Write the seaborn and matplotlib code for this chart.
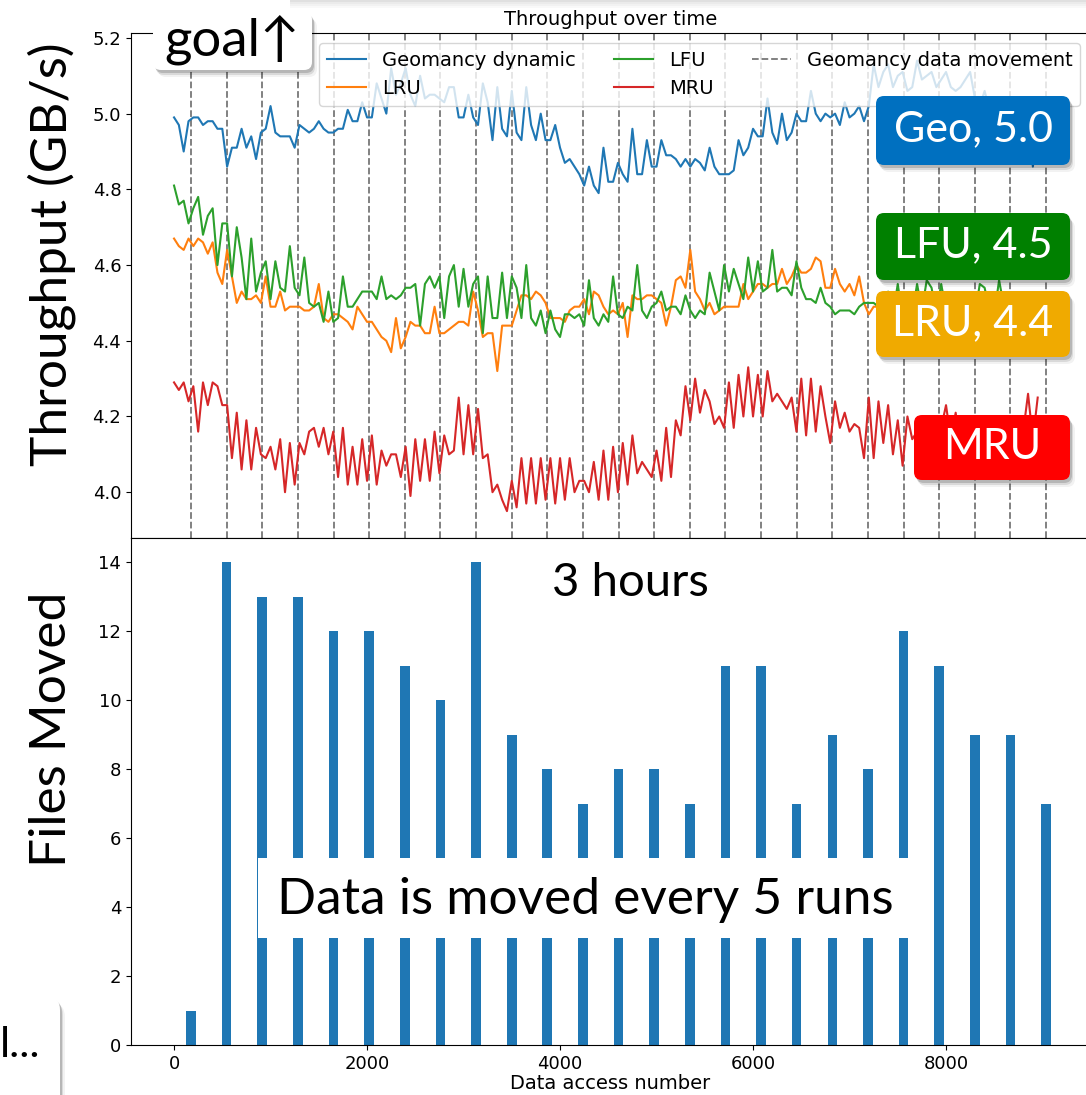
import numpy as np
import pandas as pd
import matplotlib
matplotlib.use("Agg")
import matplotlib.pyplot as plt
from matplotlib.patches import FancyBboxPatch, Rectangle
import seaborn as sns

# ---------------- data ----------------
geo = [
    4.99, 4.97, 4.90, 4.98, 4.99, 4.99, 4.97, 4.98, 4.98, 4.96,
    4.96, 4.86, 4.91, 4.91, 4.96, 4.91, 4.94, 4.88, 4.95, 4.96,
    5.02, 4.95, 4.94, 4.94, 4.94, 4.91, 4.97, 4.96, 4.95, 4.96,
    4.98, 4.96, 4.95, 4.95, 4.96, 4.96, 5.01, 4.98, 4.98, 5.03,
    4.99, 4.99, 5.08, 5.04, 5.00, 5.12, 5.05, 5.08, 5.12, 5.05,
    5.02, 5.10, 5.04, 5.05, 5.05, 5.04, 5.03, 5.07, 5.07, 4.99,
    4.99, 5.05, 4.99, 4.97, 5.08, 5.03, 4.93, 5.07, 4.96, 4.94,
    5.06, 4.95, 4.93, 5.07, 4.97, 4.93, 5.00, 4.93, 4.93, 4.97,
    4.91, 4.87, 4.88, 4.86, 4.84, 4.81, 4.86, 4.81, 4.79, 4.91,
    4.82, 4.82, 4.87, 4.84, 4.82, 4.96, 4.84, 4.84, 4.93, 4.86,
    4.86, 4.93, 4.89, 4.89, 4.88, 4.86, 4.88, 4.86, 4.88, 4.87,
    4.85, 4.91, 4.86, 4.84, 4.84, 4.84, 4.85, 4.93, 4.89, 4.91,
    4.96, 4.94, 4.94, 5.04, 4.95, 4.92, 5.00, 4.93, 4.95, 5.00,
    4.98, 4.98, 5.06, 5.00, 4.98, 5.00, 4.99, 5.00, 4.97, 5.03,
    4.99, 5.00, 5.02, 4.98, 5.02, 5.13, 5.07, 5.11, 5.13, 5.07,
    5.10, 5.11, 5.06, 5.07, 5.14, 5.09, 5.10, 5.11, 5.07, 5.09,
    5.11, 5.07, 5.06, 5.07, 5.09, 5.11, 5.04, 5.02, 5.06, 5.01,
    5.04, 4.99, 5.03, 5.00, 5.02, 4.98, 5.01, 4.99, 4.86, 4.97,
]
lru = [
    4.67, 4.65, 4.64, 4.67, 4.65, 4.67, 4.66, 4.63, 4.66, 4.58,
    4.55, 4.64, 4.57, 4.50, 4.53, 4.51, 4.51, 4.52, 4.50, 4.57,
    4.49, 4.49, 4.53, 4.48, 4.49, 4.49, 4.49, 4.48, 4.48, 4.49,
    4.55, 4.46, 4.45, 4.47, 4.47, 4.46, 4.45, 4.43, 4.49, 4.47,
    4.45, 4.45, 4.43, 4.41, 4.40, 4.37, 4.46, 4.38, 4.41, 4.45,
    4.44, 4.44, 4.42, 4.42, 4.49, 4.42, 4.42, 4.43, 4.44, 4.45,
    4.45, 4.44, 4.53, 4.48, 4.41, 4.42, 4.42, 4.32, 4.44, 4.44,
    4.44, 4.48, 4.52, 4.52, 4.51, 4.53, 4.52, 4.50, 4.46, 4.46,
    4.46, 4.45, 4.48, 4.49, 4.49, 4.51, 4.47, 4.53, 4.52, 4.49,
    4.47, 4.48, 4.47, 4.50, 4.41, 4.52, 4.51, 4.51, 4.52, 4.52,
    4.51, 4.50, 4.44, 4.49, 4.56, 4.57, 4.54, 4.64, 4.53, 4.51,
    4.48, 4.50, 4.47, 4.48, 4.49, 4.49, 4.49, 4.49, 4.55, 4.51,
    4.53, 4.55, 4.55, 4.54, 4.55, 4.55, 4.59, 4.55, 4.57, 4.60,
    4.58, 4.58, 4.59, 4.62, 4.61, 4.54, 4.54, 4.59, 4.55, 4.53,
    4.55, 4.52, 4.57, 4.50, 4.47, 4.49, 4.49, 4.52, 4.48, 4.50,
    4.47, 4.50, 4.49, 4.46, 4.50, 4.48, 4.49, 4.51, 4.48, 4.49,
    4.49, 4.50, 4.47, 4.49, 4.50, 4.48, 4.49, 4.49, 4.47, 4.50,
    4.49, 4.48, 4.49, 4.51, 4.49, 4.48, 4.50, 4.49, 4.49, 4.49,
]
lfu = [
    4.81, 4.76, 4.77, 4.71, 4.75, 4.78, 4.68, 4.73, 4.75, 4.60,
    4.71, 4.71, 4.57, 4.70, 4.62, 4.51, 4.67, 4.53, 4.58, 4.61,
    4.51, 4.61, 4.54, 4.53, 4.65, 4.54, 4.52, 4.62, 4.50, 4.49,
    4.50, 4.45, 4.53, 4.45, 4.46, 4.57, 4.49, 4.49, 4.51, 4.53,
    4.53, 4.53, 4.51, 4.57, 4.51, 4.52, 4.51, 4.52, 4.54, 4.54,
    4.55, 4.44, 4.55, 4.57, 4.54, 4.57, 4.46, 4.57, 4.60, 4.49,
    4.59, 4.49, 4.55, 4.57, 4.42, 4.57, 4.46, 4.46, 4.58, 4.46,
    4.57, 4.54, 4.46, 4.60, 4.46, 4.44, 4.48, 4.42, 4.48, 4.43,
    4.41, 4.47, 4.47, 4.46, 4.47, 4.44, 4.56, 4.46, 4.44, 4.47,
    4.45, 4.57, 4.47, 4.46, 4.49, 4.48, 4.60, 4.48, 4.46, 4.49,
    4.50, 4.53, 4.48, 4.49, 4.49, 4.47, 4.52, 4.48, 4.46, 4.48,
    4.47, 4.58, 4.53, 4.48, 4.60, 4.53, 4.59, 4.55, 4.51, 4.62,
    4.53, 4.61, 4.53, 4.54, 4.64, 4.53, 4.54, 4.54, 4.52, 4.61,
    4.54, 4.51, 4.51, 4.50, 4.54, 4.50, 4.49, 4.47, 4.48, 4.48,
    4.48, 4.47, 4.49, 4.50, 4.50, 4.50, 4.49, 4.48, 4.53, 4.47,
    4.55, 4.46, 4.50, 4.47, 4.55, 4.48, 4.56, 4.54, 4.47, 4.55,
    4.48, 4.49, 4.46, 4.50, 4.48, 4.49, 4.47, 4.55, 4.54, 4.48,
    4.47, 4.56, 4.49, 4.48, 4.50, 4.49, 4.47, 4.49, 4.48, 4.50,
]
mru = [
    4.29, 4.27, 4.29, 4.24, 4.28, 4.16, 4.29, 4.23, 4.29, 4.28,
    4.23, 4.23, 4.09, 4.21, 4.06, 4.19, 4.06, 4.17, 4.10, 4.09,
    4.12, 4.06, 4.14, 4.00, 4.13, 4.02, 4.13, 4.10, 4.16, 4.17,
    4.12, 4.17, 4.10, 4.16, 4.04, 4.17, 4.02, 4.12, 4.02, 4.14,
    4.03, 4.15, 4.02, 4.11, 4.07, 4.10, 4.10, 4.04, 4.12, 3.99,
    4.14, 4.03, 4.14, 4.03, 4.16, 4.05, 4.15, 4.10, 4.11, 4.25,
    4.10, 4.23, 4.10, 4.22, 4.09, 4.10, 4.00, 4.02, 3.98, 3.95,
    4.03, 3.96, 4.09, 3.97, 4.09, 3.97, 4.09, 3.98, 4.09, 3.97,
    4.09, 3.98, 4.09, 4.00, 4.03, 4.03, 4.00, 4.08, 3.98, 4.11,
    3.98, 4.12, 4.00, 4.13, 4.02, 4.15, 4.05, 4.08, 4.06, 4.04,
    4.11, 4.03, 4.17, 4.04, 4.19, 4.15, 4.28, 4.19, 4.30, 4.21,
    4.27, 4.24, 4.18, 4.20, 4.17, 4.29, 4.17, 4.31, 4.20, 4.33,
    4.20, 4.31, 4.20, 4.32, 4.24, 4.26, 4.24, 4.22, 4.25, 4.16,
    4.30, 4.15, 4.30, 4.16, 4.28, 4.20, 4.13, 4.24, 4.17, 4.21,
    4.16, 4.18, 4.17, 4.09, 4.25, 4.09, 4.24, 4.13, 4.23, 4.10,
    4.19, 4.07, 4.20, 4.14, 4.16, 4.15, 4.11, 4.16, 4.10, 4.17,
    4.23, 4.14, 4.21, 4.11, 4.16, 4.10, 4.17, 4.09, 4.16, 4.11,
    4.16, 4.09, 4.17, 4.10, 4.16, 4.09, 4.16, 4.26, 4.14, 4.25,
]
access_step = 50
access = [i * access_step for i in range(len(geo))]

move_points = [176, 545, 914, 1284, 1653, 2022, 2391, 2760, 3130, 3499,
               3868, 4237, 4606, 4976, 5345, 5714, 6083, 6452, 6822, 7191,
               7560, 7929, 8298, 8668, 9037]
files_moved = [1, 14, 13, 13, 12, 12, 11, 10, 14, 9,
               8, 7, 8, 8, 7, 11, 11, 7, 9, 8,
               12, 11, 9, 9, 7]

# ---------------- figure ----------------
W, H = 1086, 1095
fig = plt.figure(figsize=(W / 100, H / 100), dpi=100)
fig.patch.set_facecolor("white")

def fx(x):
    return x / W

def fy(y):
    return 1 - y / H

ax1 = fig.add_axes([fx(131), fy(538), (1090 - 131) / W, (538 - 33) / H])
ax2 = fig.add_axes([fx(131), fy(1045), (1090 - 131) / W, (1045 - 538) / H], sharex=ax1)

c_geo, c_lru, c_lfu, c_mru = "#1f77b4", "#ff7f0e", "#2ca02c", "#d62728"
series = [("Geomancy dynamic", geo, c_geo), ("LRU", lru, c_lru),
          ("LFU", lfu, c_lfu), ("MRU", mru, c_mru)]
for name, vals, col in series:
    sns.lineplot(x=access, y=vals, ax=ax1, color=col, linewidth=1.5, label=name)

for k, m in enumerate(move_points):
    ax1.axvline(m, color="#777777", linestyle="--", linewidth=1.3, zorder=1.5,
                label="Geomancy data movement" if k == 0 else None)

ax1.set_xlim(-446, 9492)
ax1.set_ylim(3.879, 5.213)
ax1.set_title("Throughput over time", fontsize=14)
ax1.tick_params(labelbottom=False, labelsize=13)
ax1.set_ylabel("")
ax1.legend(loc="upper right", ncol=3, fontsize=14)

sns.barplot(x=move_points, y=files_moved, ax=ax2, native_scale=True,
            width=100 / 369, color=c_geo, saturation=1, errorbar=None)
ax2.set_xlim(-446, 9492)
ax2.set_ylim(0, 14.7)
ax2.tick_params(labelsize=13)
ax2.set_xlabel("Data access number", fontsize=14, labelpad=1)
ax2.set_ylabel("")

# ---------------- slide overlays ----------------
SLIDE_FONT = ["Lato", "DejaVu Sans"]

def rbox(x0, y0, x1, y1, fc, rad=8, shadow=True, z=20):
    if shadow:
        for dx, dy, a in [(2, 3, 0.16), (3, 5, 0.10), (5, 7, 0.05)]:
            s = FancyBboxPatch((fx(x0 + dx), fy(y1 + dy)), (x1 - x0) / W, (y1 - y0) / H,
                               boxstyle=f"round,pad=0,rounding_size={rad / W}",
                               transform=fig.transFigure, fc="black", ec="none",
                               alpha=a, zorder=z - 1)
            fig.add_artist(s)
    p = FancyBboxPatch((fx(x0), fy(y1)), (x1 - x0) / W, (y1 - y0) / H,
                       boxstyle=f"round,pad=0,rounding_size={rad / W}",
                       transform=fig.transFigure, fc=fc, ec="none", zorder=z)
    fig.add_artist(p)

def ftext(x, y, s, size, color="black", ha="center", z=22, rot=0):
    fig.text(fx(x), fy(y), s, ha=ha, va="center", fontsize=size, color=color,
             family=SLIDE_FONT, zorder=z, rotation=rot)

# faint shadow of a slide element at the very top
for k, a in enumerate([0.12, 0.08, 0.05, 0.025]):
    fig.add_artist(Rectangle((fx(290), fy(2 + 2 * k)), (W - 290) / W, 2 / H,
                             transform=fig.transFigure, fc="black", ec="none",
                             alpha=a, zorder=19))

rbox(153, 12, 312, 70, "white")
ftext(232, 40, "goal↑", 38)

rbox(876, 96, 1070, 165, "#0070C0")
ftext(973, 129, "Geo, 5.0", 31, color="white")
rbox(876, 213, 1070, 280, "#008000")
ftext(973, 245, "LFU, 4.5", 31, color="white")
rbox(876, 291, 1070, 357, "#F0AA00")
ftext(973, 323, "LRU, 4.4", 31, color="white")
rbox(914, 415, 1070, 480, "#FF0000")
ftext(992, 447, "MRU", 31, color="white")

ftext(630, 583, "3 hours", 34)
fig.add_artist(Rectangle((fx(258), fy(938)), (912 - 258) / W, (938 - 858) / H,
                         transform=fig.transFigure, fc="white", ec="none", zorder=20))
ftext(585, 900, "Data is moved every 5 runs", 37)

rbox(-30, 996, 60, 1130, "white", rad=14)
ftext(0, 1045, "l...", 31, ha="left")

ftext(52, 254, "Throughput (GB/s)", 37, rot=90)
ftext(52, 729, "Files Moved", 37, rot=90)

fig.savefig("out.png", dpi=100, facecolor="white")
